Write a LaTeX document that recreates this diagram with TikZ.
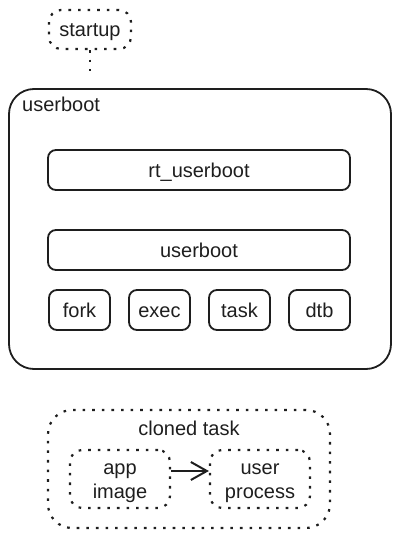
\documentclass[tikz,border=0pt]{standalone}
\usepackage{fontspec}
\setmainfont{Liberation Sans}
\usetikzlibrary{calc, arrows.meta}
\definecolor{ink}{HTML}{1E1E1E}

\begin{document}
\begin{tikzpicture}[x=1pt, y=-1pt, font=\fontsize{20}{24}\selectfont]
    \def\thick{1.8pt}
    \def\dotw{2.2pt}
    \tikzset{
      box/.style={draw=ink, text=ink, line width=\thick, rounded corners=8pt, minimum height=40pt, inner sep=0pt, text height=15pt, text depth=0pt},
      dotline/.style={draw=ink, line width=\dotw, dash pattern=on 2.6pt off 7pt},
      dotbox/.style={dotline, text=ink, rounded corners=12pt, inner sep=0pt, align=center},
      lbl/.style={text=ink, inner sep=0pt, text height=15pt, text depth=0pt}
    }
    \useasboundingbox (0,0) rectangle (400,540);

    \node[dotbox, minimum width=82pt, minimum height=39pt, text height=15pt, text depth=0pt] (startup) at (90, 29.5) {startup};
    \coordinate (stub) at (90, 71);
    \draw[dotline] (startup.south) -- (stub);

    \node[box, rounded corners=25pt, minimum width=382pt, minimum height=280pt] (outer) at (200, 229) {};
    \node[lbl, anchor=west] (outerlabel) at (22, 104) {userboot};

    \node[box, minimum width=302pt] (rt) at (199, 170) {rt\_userboot};
    \node[box, minimum width=302pt] (ub) at (199, 250) {userboot};
    \foreach \name [count=\i from 0] in {fork, exec, task, dtb}
      \node[box, minimum width=61pt] (\name) at (79.5 + 80*\i, 310) {\name};

    \node[dotbox, rounded corners=24pt, minimum width=282pt, minimum height=118pt] (cloned) at (189, 469) {};
    \node[lbl] (clonedlabel) at (189, 428) {cloned task};
    \node[dotbox, minimum width=100pt, minimum height=58pt, text height=39pt, text depth=0pt] (app) at (120, 479) {app\\image};
    \node[dotbox, minimum width=100pt, minimum height=58pt, text height=39pt, text depth=0pt] (proc) at (260, 479) {user\\process};
    \draw[draw=ink, line width=2pt, -{Straight Barb[length=16pt, width=18pt]}] ([yshift=8pt]app.east) -- ([yshift=8pt]proc.west);
\end{tikzpicture}
\end{document}
